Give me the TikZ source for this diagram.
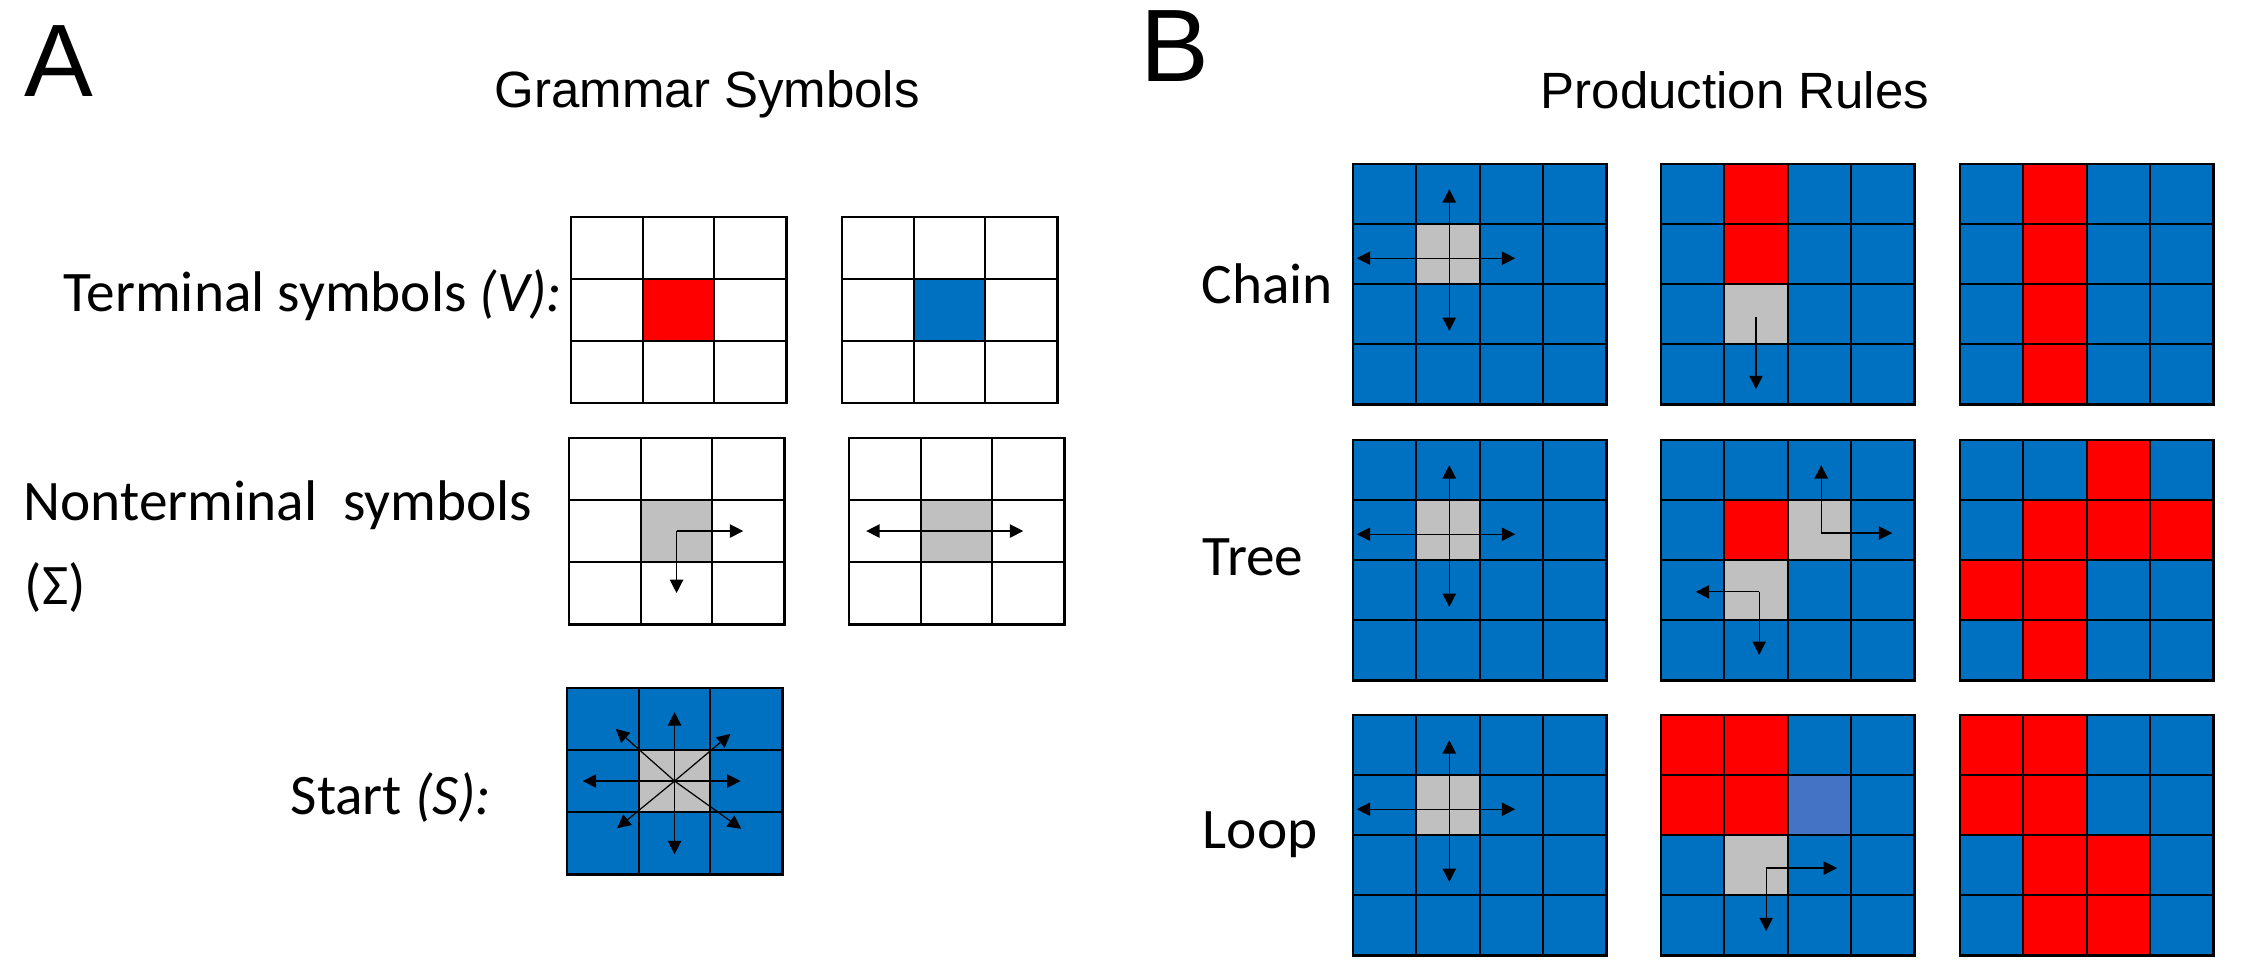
\documentclass[tikz,border=0pt]{standalone}
\usepackage{fontspec}
\setmainfont{Carlito}
\newfontfamily\arialfont{Liberation Sans}
\usetikzlibrary{arrows.meta}
\definecolor{tileblue}{HTML}{0070C0}
\definecolor{tilered}{HTML}{FF0000}
\definecolor{tilegray}{HTML}{C0C0C0}
\definecolor{tilelight}{HTML}{4472C4}
% inner lines and frame of an n x n tile grid (cell units)
\newcommand{\tilelines}[2]{%
  \foreach \k in {#2} {\draw[gridline] (\k,0) -- (\k,#1); \draw[gridline] (0,\k) -- (#1,\k);}
  \draw[gridframe] (0,0) rectangle (#1,#1);}

\begin{document}
\begin{tikzpicture}[x=0.01cm, y=-0.01cm,
  panelletter/.style={font=\arialfont\fontsize{29.3}{30}\selectfont, anchor=base west, inner sep=0pt},
  headtext/.style={font=\arialfont\fontsize{14.5}{16}\selectfont, anchor=base west, inner sep=0pt},
  rowtext/.style={font=\fontsize{16.3}{18}\selectfont, anchor=base west, inner sep=0pt},
  gridline/.style={line width=0.6pt},
  gridframe/.style={line width=0.8pt},
  arr/.style={-{Triangle[length=3.8pt,width=3.8pt]}, line width=0.35pt}
]
\useasboundingbox (0,0) rectangle (2257,977);

% headings
\node[panelletter] (pa) at (24,97) {A};
\node[panelletter] (pb) at (1140,82) {B};
\node[headtext] (hgs) at (494,108) {Grammar Symbols};
\node[headtext] (hpr) at (1540,109) {Production Rules};

% row labels
\node[rowtext] (lterm) at (63,312) {Terminal symbols \textit{(V):}};
\node[rowtext] (lnon) at (23,521) {Nonterminal\ \ symbols};
\node[rowtext] (lsig) at (24,605) {(Σ)};
\node[rowtext] (lstart) at (290,815) {Start \textit{(S):}};
\node[rowtext] (lchain) at (1201,304) {Chain};
\node[rowtext] (ltree) at (1202,576) {Tree};
\node[rowtext] (lloop) at (1202,849) {Loop};

% A: terminal symbols
\begin{scope}[shift={(571,217)}, x=0.7167cm, y=-0.62cm]
  \fill[tilered] (1,1) rectangle (2,2);
  \tilelines{3}{1,2}
\end{scope}
\begin{scope}[shift={(842,217)}, x=0.7167cm, y=-0.62cm]
  \fill[tileblue] (1,1) rectangle (2,2);
  \tilelines{3}{1,2}
\end{scope}

% A: nonterminal symbols
\begin{scope}[shift={(569,438)}, x=0.7167cm, y=-0.62cm]
  \fill[tilegray] (1,1) rectangle (2,2);
  \tilelines{3}{1,2}
  \coordinate (nlc) at (1.5,1.5);
  \coordinate (nle) at (2.43,1.5);
  \coordinate (nls) at (1.5,2.5);
  \draw[arr] (nlc) -- (nle);
  \draw[arr] (nlc) -- (nls);
\end{scope}
\begin{scope}[shift={(849,438)}, x=0.7167cm, y=-0.62cm]
  \fill[tilegray] (1,1) rectangle (2,2);
  \tilelines{3}{1,2}
  \coordinate (nhc) at (1.5,1.5);
  \coordinate (nhw) at (0.24,1.5);
  \coordinate (nhe) at (2.43,1.5);
  \draw[arr] (nhc) -- (nhw);
  \draw[arr] (nhc) -- (nhe);
\end{scope}

% A: start
\begin{scope}[shift={(567,688)}, x=0.7167cm, y=-0.62cm]
  \fill[tileblue] (0,0) rectangle (3,3);
  \fill[tilegray] (1,1) rectangle (2,2);
  \tilelines{3}{1,2}
  \coordinate (sc) at (1.5,1.5);
  \foreach \nm/\px/\py in {sw/0.22/1.5, se/2.42/1.5, sn/1.5/0.39, ss/1.5/2.68,
                           snw/0.68/0.66, sne/2.28/0.74, ssw/0.7/2.26, sse/2.43/2.27} {
    \coordinate (\nm) at (\px,\py);
    \draw[arr] (sc) -- (\nm);
  }
\end{scope}

% B: first column, same start tile in every row
\foreach \gy [count=\r] in {164,440,715} {
  \begin{scope}[shift={(1353,\gy)}, x=0.633cm, y=-0.6cm]
    \fill[tileblue] (0,0) rectangle (4,4);
    \fill[tilegray] (1,1) rectangle (2,2);
    \tilelines{4}{1,2,3}
    \coordinate (cc\r) at (1.52,1.57);
    \coordinate (cw\r) at (0.06,1.57);
    \coordinate (ce\r) at (2.56,1.57);
    \coordinate (cn\r) at (1.52,0.42);
    \coordinate (cs\r) at (1.52,2.78);
    \draw[arr] (cc\r) -- (cw\r);
    \draw[arr] (cc\r) -- (ce\r);
    \draw[arr] (cc\r) -- (cn\r);
    \draw[arr] (cc\r) -- (cs\r);
  \end{scope}
}

% B: chain
\begin{scope}[shift={(1661,164)}, x=0.633cm, y=-0.6cm]
  \fill[tileblue] (0,0) rectangle (4,4);
  \foreach \i/\j in {1/0, 1/1} \fill[tilered] (\i,\j) rectangle ++(1,1);
  \fill[tilegray] (1,2) rectangle (2,3);
  \tilelines{4}{1,2,3}
  \coordinate (chc) at (1.5,2.55);
  \coordinate (chs) at (1.5,3.75);
  \draw[arr] (chc) -- (chs);
\end{scope}
\begin{scope}[shift={(1960,164)}, x=0.633cm, y=-0.6cm]
  \fill[tileblue] (0,0) rectangle (4,4);
  \fill[tilered] (1,0) rectangle (2,4);
  \tilelines{4}{1,2,3}
\end{scope}

% B: tree
\begin{scope}[shift={(1661,440)}, x=0.633cm, y=-0.6cm]
  \fill[tileblue] (0,0) rectangle (4,4);
  \fill[tilered] (1,1) rectangle (2,2);
  \foreach \i/\j in {2/1, 1/2} \fill[tilegray] (\i,\j) rectangle ++(1,1);
  \tilelines{4}{1,2,3}
  \coordinate (tac) at (2.53,1.55);
  \coordinate (tan) at (2.53,0.42);
  \coordinate (tae) at (3.65,1.55);
  \coordinate (tbc) at (1.55,2.53);
  \coordinate (tbw) at (0.55,2.53);
  \coordinate (tbs) at (1.55,3.58);
  \draw[arr] (tac) -- (tan);
  \draw[arr] (tac) -- (tae);
  \draw[arr] (tbc) -- (tbw);
  \draw[arr] (tbc) -- (tbs);
\end{scope}
\begin{scope}[shift={(1960,440)}, x=0.633cm, y=-0.6cm]
  \fill[tileblue] (0,0) rectangle (4,4);
  \foreach \i/\j in {2/0, 1/1, 2/1, 3/1, 0/2, 1/2, 1/3} \fill[tilered] (\i,\j) rectangle ++(1,1);
  \tilelines{4}{1,2,3}
\end{scope}

% B: loop
\begin{scope}[shift={(1661,715)}, x=0.633cm, y=-0.6cm]
  \fill[tileblue] (0,0) rectangle (4,4);
  \fill[tilered] (0,0) rectangle (2,2);
  \fill[tilelight] (2,1) rectangle (3,2);
  \fill[tilegray] (1,2) rectangle (2,3);
  \tilelines{4}{1,2,3}
  \coordinate (lpc) at (1.66,2.55);
  \coordinate (lpe) at (2.78,2.55);
  \coordinate (lps) at (1.66,3.6);
  \draw[arr] (lpc) -- (lpe);
  \draw[arr] (lpc) -- (lps);
\end{scope}
\begin{scope}[shift={(1960,715)}, x=0.633cm, y=-0.6cm]
  \fill[tileblue] (0,0) rectangle (4,4);
  \foreach \i/\j in {0/0, 1/0, 0/1, 1/1, 1/2, 2/2, 1/3, 2/3} \fill[tilered] (\i,\j) rectangle ++(1,1);
  \tilelines{4}{1,2,3}
\end{scope}
\end{tikzpicture}
\end{document}
